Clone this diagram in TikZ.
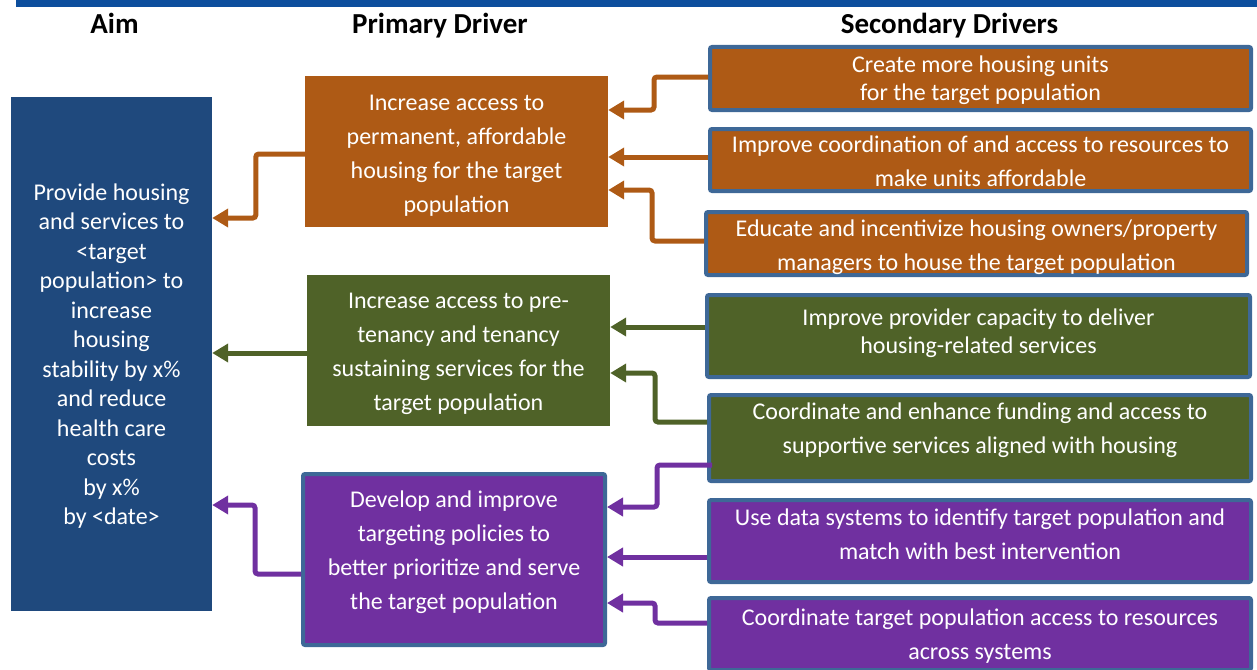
\documentclass[tikz,border=0pt]{standalone}
\usepackage{fontspec}
\setmainfont{Carlito}
\usetikzlibrary{arrows.meta, positioning}

\definecolor{barblue}{HTML}{0D4E9D}
\definecolor{aimblue}{HTML}{1F497D}
\definecolor{edgeblue}{HTML}{3E6897}
\definecolor{houseorange}{HTML}{AE5A15}
\definecolor{serviceolive}{HTML}{4F6228}
\definecolor{policypurple}{HTML}{7030A0}

\tikzset{
    head/.style={font=\fontsize{29}{34}\selectfont\bfseries, anchor=base, inner sep=0pt},
    box/.style={fill=#1, text=white, align=center, inner sep=0pt},
    framed/.style={box=#1, draw=edgeblue, line width=4pt, rounded corners=2pt},
    lift/.style={text height=#1, text depth=0pt},
    feed/.style={draw=#1, line width=5pt, rounded corners=3pt,
        -{Triangle[length=16pt, width=18pt]}},
    tight/.style={font=\fontsize{24}{28}\selectfont},
}

\begin{document}
\begin{tikzpicture}[x=1pt, y=-1pt]
    \tikzstyle{every node}=[font=\fontsize{24}{34}\selectfont];
    \useasboundingbox (0,0) rectangle (1257,669);
    \clip (0,0) rectangle (1257,669);
    \fill[barblue] (16,0) rectangle (1257,7);

    % column titles
    \node[head] (taim) at (114.5,34) {Aim};
    \node[head] (tprim) at (440,34) {Primary Driver};
    \node[head] (tsec) at (949.5,34) {Secondary Drivers};

    \node[box=aimblue, minimum width=201pt, minimum height=514pt, lift=341pt,
        font=\fontsize{24}{29.5}\selectfont] (aim) at (111.5,354)
        {Provide housing\\and services to\\<target\\population> to\\increase\\housing\\stability by x\%\\and reduce\\health care\\costs\\by x\%\\by <date>};

    % primary drivers
    \node[box=houseorange, minimum width=303pt, minimum height=151pt, lift=122pt] (pd1) at (456.5,151.5)
        {Increase access to\\permanent, affordable\\housing for the target\\population};
    \node[box=serviceolive, minimum width=303pt, minimum height=151pt, lift=120pt] (pd2) at (458.5,350.5)
        {Increase access to pre-\\tenancy and tenancy\\sustaining services for the\\target population};
    \node[framed=policypurple, minimum width=302pt, minimum height=171pt, lift=100pt] (pd3) at (454,559.5)
        {Develop and improve\\targeting policies to\\better prioritize and serve\\the target population};

    % secondary drivers
    \node[framed=houseorange, tight, minimum width=541pt, minimum height=63pt, lift=44pt] (sd1) at (980.5,78.5)
        {Create more housing units\\for the target population};
    \node[framed=houseorange, minimum width=541pt, minimum height=62pt, lift=53pt] (sd2) at (980.5,160)
        {Improve coordination of and access to resources to\\make units affordable};
    \node[framed=houseorange, minimum width=541pt, minimum height=63pt, lift=54pt] (sd3) at (976.5,243.5)
        {Educate and incentivize housing owners/property\\managers to house the target population};
    \node[framed=serviceolive, tight, minimum width=543pt, minimum height=82pt, lift=35pt] (sd4) at (978.5,336)
        {Improve provider capacity to deliver\\housing-related services};
    \node[framed=serviceolive, minimum width=542pt, minimum height=86pt, lift=31pt] (sd5) at (980,438)
        {Coordinate and enhance funding and access to\\supportive services aligned with housing};
    \node[framed=policypurple, minimum width=542pt, minimum height=82pt, lift=37pt] (sd6) at (980,541)
        {Use data systems to identify target population and\\match with best intervention};
    \node[framed=policypurple, minimum width=542pt, minimum height=72pt, lift=51pt] (sd7) at (980,634)
        {Coordinate target population access to resources\\across systems};

    % connectors
    \draw[feed=houseorange] (pd1.west |- 0,154) -- ++(-49,0) |- (aim.east |- 0,218);
    \draw[feed=houseorange] (sd1.west |- 0,77) -- ++(-54,0) |- (pd1.east |- 0,110);
    \draw[feed=houseorange] (sd2.west |- 0,157) -- (pd1.east |- 0,157);
    \draw[feed=houseorange] (sd3.west |- 0,241) -- ++(-52,0) |- (pd1.east |- 0,190);

    \draw[feed=serviceolive] (pd2.west |- 0,353) -- (aim.east |- 0,353);
    \draw[feed=serviceolive] (sd4.west |- 0,327) -- (pd2.east |- 0,327);
    \draw[feed=serviceolive] (sd5.west |- 0,422) -- ++(-52,0) |- (pd2.east |- 0,373);

    \draw[feed=policypurple] (pd3.west |- 0,574) -- ++(-46,0) |- (aim.east |- 0,505);
    \draw[feed=policypurple] ([xshift=5pt]sd5.west |- 0,465) -- ++(-55,0) |- (pd3.east |- 0,507);
    \draw[feed=policypurple] (sd6.west |- 0,557) -- (pd3.east |- 0,557);
    \draw[feed=policypurple] (sd7.west |- 0,623) -- ++(-52,0) |- (pd3.east |- 0,603);
\end{tikzpicture}
\end{document}
